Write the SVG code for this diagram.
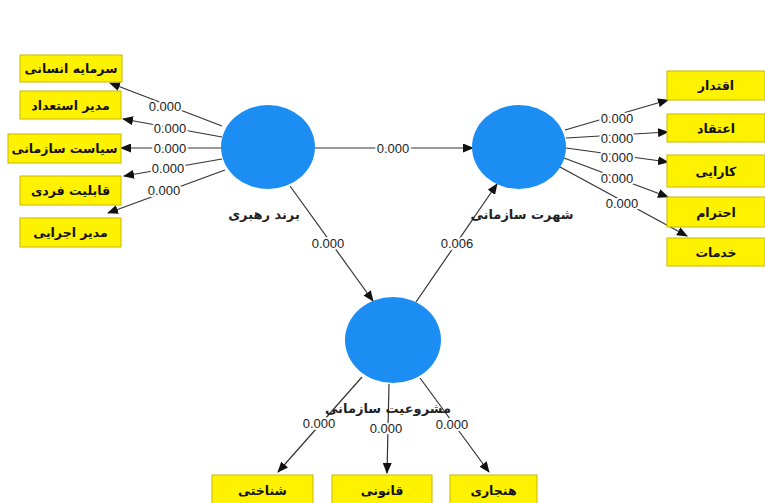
<svg xmlns="http://www.w3.org/2000/svg" width="765" height="503" viewBox="0 0 765 503">
<style>
.box{fill:#FFF200;stroke:#C9B800;stroke-width:1}
.bt{font-family:"DejaVu Sans",sans-serif;font-size:12.5px;font-weight:bold;fill:#111;text-anchor:middle;dominant-baseline:central}
.lv{fill:#1C8DF2}
.lt{font-family:"DejaVu Sans",sans-serif;font-size:13px;font-weight:bold;fill:#222;text-anchor:middle;dominant-baseline:central}
.c{stroke:#333;stroke-width:1.2;fill:none;marker-end:url(#ah)}
.n{font-family:"Liberation Sans",Arial,sans-serif;font-size:13px;fill:#222;text-anchor:middle;dominant-baseline:central;stroke:#fff;stroke-width:4;paint-order:stroke}
</style>
<defs>
<marker id="ah" markerUnits="userSpaceOnUse" markerWidth="11" markerHeight="9" refX="10" refY="4.5" orient="auto">
<path d="M0,0 L11,4.5 L0,9 z" fill="#111"/>
</marker>
</defs>
<rect width="765" height="503" fill="#fff"/>
<g id="connectors">
<line class="c" x1="222" y1="126" x2="110" y2="83"/>
<line class="c" x1="222" y1="137" x2="123" y2="119"/>
<line class="c" x1="222" y1="148" x2="121" y2="148"/>
<line class="c" x1="222" y1="159" x2="124" y2="176"/>
<line class="c" x1="225" y1="170" x2="108" y2="213"/>
<line class="c" x1="565" y1="130" x2="668" y2="100"/>
<line class="c" x1="566" y1="138" x2="668" y2="132"/>
<line class="c" x1="566" y1="148" x2="668" y2="162"/>
<line class="c" x1="564" y1="158" x2="668" y2="197"/>
<line class="c" x1="560" y1="167" x2="687" y2="236"/>
<line class="c" x1="315" y1="148" x2="473" y2="148"/>
<line class="c" x1="290" y1="186" x2="373" y2="301"/>
<line class="c" x1="416" y1="302" x2="497" y2="184"/>
<line class="c" x1="362" y1="377" x2="278" y2="472"/>
<line class="c" x1="389" y1="384" x2="387" y2="473"/>
<line class="c" x1="420" y1="378" x2="489" y2="472"/>
<text class="n" x="165" y="106">0.000</text>
<text class="n" x="170" y="128">0.000</text>
<text class="n" x="170" y="148">0.000</text>
<text class="n" x="168" y="168">0.000</text>
<text class="n" x="164" y="190">0.000</text>
<text class="n" x="617" y="118">0.000</text>
<text class="n" x="617" y="138">0.000</text>
<text class="n" x="617" y="157">0.000</text>
<text class="n" x="617" y="178">0.000</text>
<text class="n" x="622" y="203">0.000</text>
<text class="n" x="393" y="148">0.000</text>
<text class="n" x="328" y="243">0.000</text>
<text class="n" x="457" y="243">0.006</text>
<text class="n" x="319" y="423">0.000</text>
<text class="n" x="386" y="428">0.000</text>
<text class="n" x="452" y="424">0.000</text>
</g>
<g id="node-brand">
<ellipse class="lv" cx="268" cy="147" rx="47" ry="42"/>
<text class="lt" x="264" y="214">برند رهبری</text>
</g>
<g id="node-reputation">
<ellipse class="lv" cx="519" cy="147" rx="47" ry="42"/>
<text class="lt" x="522" y="214">شهرت سازمانی</text>
</g>
<g id="node-legitimacy">
<ellipse class="lv" cx="393" cy="340" rx="48" ry="43"/>
<text class="lt" x="388" y="408">مشروعیت سازمانی</text>
</g>
<g id="box-l1"><rect class="box" x="20" y="55" width="102" height="27"/><text class="bt" x="71" y="68.5">سرمایه انسانی</text></g>
<g id="box-l2"><rect class="box" x="20" y="91" width="101" height="28"/><text class="bt" x="70.5" y="105">مدیر استعداد</text></g>
<g id="box-l3"><rect class="box" x="8" y="134" width="113" height="29"/><text class="bt" x="64.5" y="148.5">سیاست سازمانی</text></g>
<g id="box-l4"><rect class="box" x="20" y="176" width="101" height="29"/><text class="bt" x="70.5" y="190.5">قابلیت فردی</text></g>
<g id="box-l5"><rect class="box" x="20" y="218" width="101" height="29"/><text class="bt" x="70.5" y="232.5">مدیر اجرایی</text></g>
<g id="box-r1"><rect class="box" x="667" y="71" width="98" height="29"/><text class="bt" x="716" y="85.5">اقتدار</text></g>
<g id="box-r2"><rect class="box" x="667" y="114" width="98" height="28"/><text class="bt" x="716" y="128">اعتقاد</text></g>
<g id="box-r3"><rect class="box" x="667" y="155" width="98" height="32"/><text class="bt" x="716" y="171">کارایی</text></g>
<g id="box-r4"><rect class="box" x="667" y="197" width="98" height="30"/><text class="bt" x="716" y="212">احترام</text></g>
<g id="box-r5"><rect class="box" x="667" y="238" width="98" height="28"/><text class="bt" x="716" y="252">خدمات</text></g>
<g id="box-b1"><rect class="box" x="212" y="475" width="101" height="32"/><text class="bt" x="262.5" y="490">شناختی</text></g>
<g id="box-b2"><rect class="box" x="332" y="475" width="100" height="32"/><text class="bt" x="382" y="490">قانونی</text></g>
<g id="box-b3"><rect class="box" x="450" y="475" width="87" height="32"/><text class="bt" x="493.5" y="490">هنجاری</text></g>
</svg>
